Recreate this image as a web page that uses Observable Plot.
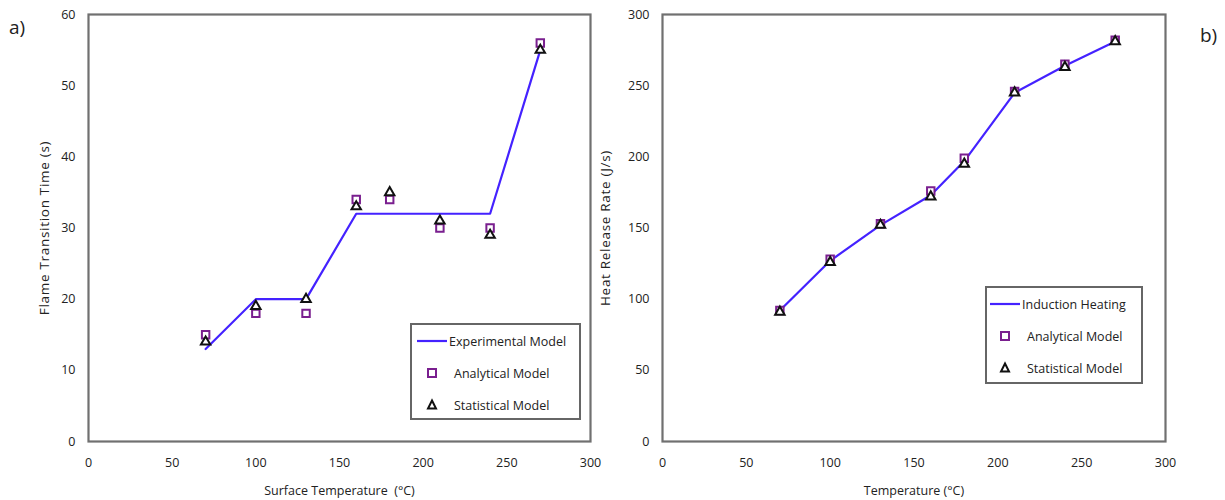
<!DOCTYPE html>
<html>
<head>
<meta charset="utf-8">
<script src="https://cdn.jsdelivr.net/npm/d3@7"></script>
<script src="https://cdn.jsdelivr.net/npm/@observablehq/plot@0.6"></script>
<style>
  html, body { margin: 0; padding: 0; background: #fff; }
  body { width: 1225px; height: 500px; position: relative; overflow: hidden; font-family: "Open Sans", sans-serif; color: #222; }
  .panel { position: absolute; top: 0; }
  .panel svg { overflow: visible; }
  .tag { position: absolute; font-size: 19px; color: #222; }
  .legend { position: absolute; border: 2px solid #666; background: #fff; font-size: 12.5px; box-sizing: border-box; color: #222; }
  .legend .row { position: absolute; left: 0; height: 16px; display: flex; align-items: center; white-space: nowrap; }
  .legend svg { display: block; }
  g[aria-label="y-axis label"] text { font-size: 13.5px; letter-spacing: 0.7px; }
</style>
</head>
<body>
<div class="tag" style="left:9px; top:14px;">a)</div>
<div class="tag" style="left:1200px; top:22px;">b)</div>
<div id="left" class="panel" style="left:0px;"></div>
<div id="right" class="panel" style="left:595px;"></div>
<div id="legA" class="legend" style="left:410px; top:323px; width:171px; height:97px;"></div>
<div id="legB" class="legend" style="left:985px; top:286px; width:158px; height:98px;"></div>
<script>
// ---------- data ----------
const tempsA = [70, 100, 130, 160, 180, 210, 240, 270];
const expTempsA = [70, 100, 130, 160, 240, 270];
const experimentalA = [13, 20, 20, 32, 32, 55];
const analyticalA = [15, 18, 18, 34, 34, 30, 30, 56];
const statisticalA = [14, 19, 20, 33, 35, 31, 29, 55];

const tempsB = [70, 100, 130, 160, 180, 210, 240, 270];
const inductionB = [92, 127, 152, 173, 197, 245, 264, 281];
const analyticalB = [92, 128, 153, 176, 199, 246, 265, 282];
const statisticalB = [91, 126, 152, 172, 195, 245, 263, 281];

const xTicks = [0, 50, 100, 150, 200, 250, 300];
const yTicksA = [0, 10, 20, 30, 40, 50, 60];
const yTicksB = [0, 50, 100, 150, 200, 250, 300];

const lineColor = "#4422ff";
const squareColor = "#7a1f8f";
const triColor = "#111";

function pts(xs, ys) { return xs.map((x, i) => ({x, y: ys[i]})); }

function panel({width, marginLeft, marginRight, yDomain, yTicks, xLabel, yLabel, yLabelOffset, lineData, sqData, triData}) {
  return Plot.plot({
    width, height: 500,
    marginLeft, marginRight, marginTop: 14, marginBottom: 59,
    style: {fontFamily: "Open Sans, sans-serif", fontSize: "13px", color: "#222", background: "transparent", overflow: "visible"},
    x: {domain: [0, 300]},
    y: {domain: yDomain},
    marks: [
      Plot.axisX({ticks: xTicks, tickSize: 0, tickPadding: 17, label: xLabel, labelArrow: false, labelAnchor: "center", labelOffset: 53, fontSize: 12.5, tickFormat: d => d}),
      Plot.axisY({ticks: yTicks, tickSize: 0, tickPadding: 13, label: yLabel, labelArrow: false, labelAnchor: "center", labelOffset: yLabelOffset, fontSize: 12.5, tickFormat: d => d}),
      Plot.line(lineData, {x: "x", y: "y", stroke: lineColor, strokeWidth: 2.2}),
      Plot.dot(sqData, {x: "x", y: "y", symbol: "square", r: 4.2, fill: "white", stroke: squareColor, strokeWidth: 2}),
      Plot.dot(triData, {x: "x", y: "y", symbol: "triangle", r: 3.5, fill: "white", stroke: triColor, strokeWidth: 2}),
      Plot.frame({stroke: "#707070", strokeWidth: 2.2})
    ]
  });
}

const left = panel({
  width: 605, marginLeft: 88, marginRight: 15,
  yDomain: [0, 60], yTicks: yTicksA,
  xLabel: "Surface Temperature  (°C)", yLabel: "Flame Transition Time (s)", yLabelOffset: 49,
  lineData: pts(expTempsA, experimentalA), sqData: pts(tempsA, analyticalA), triData: pts(tempsA, statisticalA)
});
document.getElementById("left").appendChild(left);

const right = panel({
  width: 630, marginLeft: 67, marginRight: 60,
  yDomain: [0, 300], yTicks: yTicksB,
  xLabel: "Temperature (°C)", yLabel: "Heat Release Rate (J/s)", yLabelOffset: 62,
  lineData: pts(tempsB, inductionB), sqData: pts(tempsB, analyticalB), triData: pts(tempsB, statisticalB)
});
document.getElementById("right").appendChild(right);

// ---------- legends ----------
function swatch(kind) {
  const ns = "http://www.w3.org/2000/svg";
  const s = document.createElementNS(ns, "svg");
  s.setAttribute("width", 30); s.setAttribute("height", 16);
  if (kind === "line") {
    const l = document.createElementNS(ns, "line");
    l.setAttribute("x1", 0); l.setAttribute("x2", 30); l.setAttribute("y1", 8); l.setAttribute("y2", 8);
    l.setAttribute("stroke", lineColor); l.setAttribute("stroke-width", 2.2);
    s.appendChild(l);
  } else if (kind === "square") {
    const r = document.createElementNS(ns, "rect");
    r.setAttribute("x", 11); r.setAttribute("y", 4); r.setAttribute("width", 8); r.setAttribute("height", 8);
    r.setAttribute("fill", "white"); r.setAttribute("stroke", squareColor); r.setAttribute("stroke-width", 2);
    s.appendChild(r);
  } else {
    const p = document.createElementNS(ns, "path");
    p.setAttribute("d", "M15,3.5 L19,11.5 L11,11.5 Z");
    p.setAttribute("fill", "white"); p.setAttribute("stroke", triColor); p.setAttribute("stroke-width", 2);
    s.appendChild(p);
  }
  return s;
}
function legend(id, items, rows, left0) {
  const el = document.getElementById(id);
  items.forEach((it, i) => {
    const row = document.createElement("div");
    row.className = "row";
    row.style.top = rows[i] + "px";
    row.style.left = left0 + "px";
    row.appendChild(swatch(it.kind));
    const t = document.createElement("span");
    t.textContent = it.label;
    t.style.marginLeft = it.kind === "line" ? "2px" : "7px";
    row.appendChild(t);
    el.appendChild(row);
  });
}
legend("legA", [
  {kind: "line", label: "Experimental Model"},
  {kind: "square", label: "Analytical Model"},
  {kind: "triangle", label: "Statistical Model"}
], [8, 40, 72], 5);
legend("legB", [
  {kind: "line", label: "Induction Heating"},
  {kind: "square", label: "Analytical Model"},
  {kind: "triangle", label: "Statistical Model"}
], [8, 40, 72], 3);
</script>
</body>
</html>
